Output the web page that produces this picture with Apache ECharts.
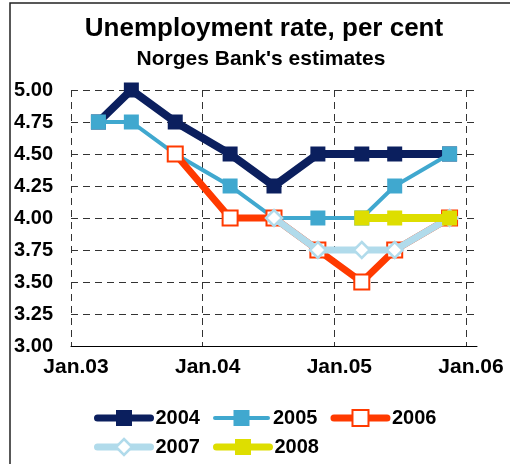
<!DOCTYPE html>
<html>
<head>
<meta charset="utf-8">
<script src="https://cdn.jsdelivr.net/npm/echarts@6/dist/echarts.min.js"></script>
<style>
html,body{margin:0;padding:0;background:#fff;}
#chart{width:510px;height:464px;}
</style>
</head>
<body>
<div id="chart"></div>
<script>
// ---- data ----
const reportDates = ['2003-03-16','2003-06-16','2003-10-16','2004-03-16','2004-07-16','2004-11-16','2005-03-16','2005-06-16','2005-11-16'];
const s2004 = [4.75, 5.00, 4.75, 4.50, 4.25, 4.50, 4.50, 4.50, 4.50];
const s2005 = [4.75, 4.75, 4.50, 4.25, 4.00, 4.00, 4.00, 4.25, 4.50];
const s2006 = [null, null, 4.50, 4.00, 4.00, 3.75, 3.50, 3.75, 4.00];
const s2007 = [null, null, null, null, 4.00, 3.75, 3.75, 3.75, 4.00];
const s2008 = [null, null, null, null, null, null, 4.00, 4.00, 4.00];
const seriesNames = ['2004','2005','2006','2007','2008'];
const xTickLabels = ['Jan.03','Jan.04','Jan.05','Jan.06'];
const titleText = 'Unemployment rate, per cent';
const subtitleText = "Norges Bank's estimates";

// months since Jan 2003
function monthIndex(s){
  const p = s.split('-').map(Number);
  return (p[0]-2003)*12 + (p[1]-1) + (p[2]-1)/30;
}
function pairs(vals){
  return vals.map((v,i)=> v==null ? null : [monthIndex(reportDates[i]), v]).filter(d=>d);
}

const FONT = "'Liberation Sans', Arial, sans-serif";
const C2004 = '#0b1f5e', C2005 = '#40a8cf', C2006 = '#ff3a00', C2007 = '#b1dbeb', C2008 = '#dede00';

const styles = {
  '2004': {color:C2004, width:8, symbol:'rect', size:15, item:{color:C2004}},
  '2005': {color:C2005, width:4, symbol:'rect', size:15, item:{color:C2005}},
  '2006': {color:C2006, width:7, symbol:'rect', size:15, item:{color:'#ffffff', borderColor:C2006, borderWidth:2}},
  '2007': {color:C2007, width:7, symbol:'diamond', size:16, item:{color:'#ffffff', borderColor:C2007, borderWidth:2.5}},
  '2008': {color:C2008, width:8, symbol:'rect', size:15, item:{color:C2008}}
};
const allData = [s2004, s2005, s2006, s2007, s2008];

const series = seriesNames.map((n,i)=>({
  name:n, type:'line', zlevel: 1+i, z: 2,
  data: pairs(allData[i]),
  symbol: styles[n].symbol, symbolSize: styles[n].size,
  lineStyle:{color:styles[n].color, width:styles[n].width, join:'miter'},
  itemStyle: Object.assign({}, styles[n].item),
  emphasis:{disabled:true},
  silent:true
}));

function legendItem(n){
  return {name:n,
    lineStyle:{width:Math.min(styles[n].width,7), color:styles[n].color, cap:'round'},
    itemStyle:Object.assign({}, styles[n].item)};
}
const legendCommon = {orient:'horizontal', itemWidth:53, itemHeight:20, itemGap:13, padding:0,
  textStyle:{fontFamily:FONT, fontWeight:'bold', fontSize:20, color:'#000'}, selectedMode:false};

const chart = echarts.init(document.getElementById('chart'), null, {renderer:'canvas'});
chart.setOption({
  animation:false,
  backgroundColor:'#ffffff',
  graphic:[
    {type:'rect', shape:{x:10, y:3, width:600, height:600}, style:{fill:null, stroke:'#222', lineWidth:1.5}, silent:true},
    {type:'text', x:264, y:29, style:{text:titleText, font:"bold 26px "+FONT, fill:'#000', textAlign:'center', textVerticalAlign:'middle'}},
    {type:'text', x:261, y:59, style:{text:subtitleText, font:"bold 21px "+FONT, fill:'#000', textAlign:'center', textVerticalAlign:'middle'}}
  ],
  legend:[
    Object.assign({data:['2004','2005','2006'].map(legendItem), left:94, top:408}, legendCommon),
    Object.assign({data:['2007','2008'].map(legendItem), left:94, top:437}, legendCommon)
  ],
  grid:{left:71, right:33, top:90, bottom:118, containLabel:false, outerBoundsMode:'none'},
  xAxis:{
    type:'value', min:0, max:37, interval:12,
    axisLine:{show:true, onZero:false, lineStyle:{color:'#000', width:1}},
    axisTick:{show:false},
    axisLabel:{
      formatter:(v)=> (v%12===0 && v/12 < xTickLabels.length) ? xTickLabels[v/12] : '',
      fontFamily:FONT, fontWeight:'bold', fontSize:21, color:'#000', margin:11, padding:[0,0,0,10],
      showMinLabel:true, showMaxLabel:false
    },
    splitLine:{show:true, showMinLine:true, showMaxLine:false, lineStyle:{color:'#333', width:1, type:[7,5]}}
  },
  yAxis:{
    type:'value', min:3, max:5, interval:0.25,
    axisLine:{show:false}, axisTick:{show:false},
    axisLabel:{formatter:(v)=>v.toFixed(2), fontFamily:FONT, fontWeight:'bold', fontSize:20, color:'#000', margin:18},
    splitLine:{show:true, showMinLine:false, showMaxLine:true, lineStyle:{color:'#333', width:1, type:[7,5]}}
  },
  series: series
});
</script>
</body>
</html>
